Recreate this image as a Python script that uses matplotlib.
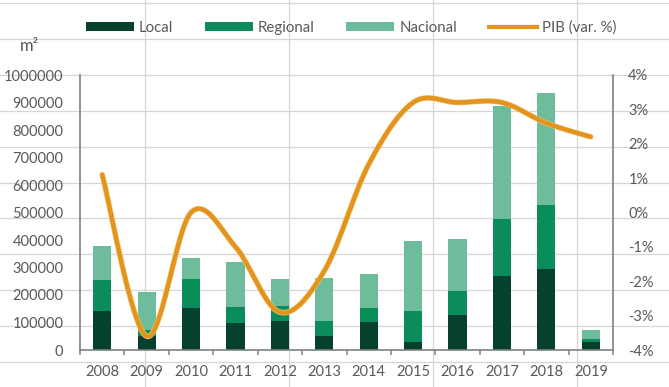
import matplotlib
matplotlib.use('Agg')
import matplotlib.pyplot as plt
import numpy as np
from matplotlib.lines import Line2D
from matplotlib.patches import Patch
import matplotlib.patheffects as pe
from matplotlib.ticker import FixedLocator, FuncFormatter

plt.rcParams['font.family'] = ['Lato', 'DejaVu Sans']

# ---- data ----
years = ['2008', '2009', '2010', '2011', '2012', '2013', '2014', '2015', '2016', '2017', '2018', '2019']
local = [142000, 51000, 153000, 98000, 105500, 51000, 102000, 29000, 127000, 269000, 294500, 29000]
regional = [112500, 22000, 105000, 58000, 54500, 54500, 51000, 113000, 87500, 207000, 232500, 11000]
nacional = [123500, 138000, 76500, 164000, 98000, 156500, 123000, 254000, 189000, 411000, 407500, 33000]
pib = [1.1, -3.6, 0.0, -1.0, -2.9, -1.7, 1.4, 3.2, 3.2, 3.2, 2.6, 2.2]

left_ticks = list(range(0, 1000001, 100000))
right_ticks = [-4, -3, -2, -1, 0, 1, 2, 3, 4]

c_local = '#06402F'
c_regional = '#0B8D5B'
c_nacional = '#6DBD9D'
c_pib = '#E3941F'
c_text = '#595959'
c_axis = '#808080'
c_sheet = '#D6D6D6'

W, H = 669, 387
fig = plt.figure(figsize=(W / 100, H / 100), dpi=100)
fig.patch.set_facecolor('white')

# spreadsheet cell grid behind the chart
for yp in [3, 39, 75, 111, 147, 183, 218, 254, 290, 326, 362]:
    fig.add_artist(Line2D([0, 1], [1 - yp / H, 1 - yp / H], transform=fig.transFigure,
                          color=c_sheet, lw=0.9, zorder=-5))
for xp in [145, 289, 433, 577]:
    fig.add_artist(Line2D([xp / W, xp / W], [0, 1], transform=fig.transFigure,
                          color=c_sheet, lw=0.9, zorder=-5))

ax = fig.add_axes([80 / W, 1 - 350 / H, (613 - 80) / W, (350 - 75) / H])
ax.set_facecolor('none')

x = np.arange(len(years))
bw = 0.41
loc = np.array(local)
reg = np.array(regional)
nac = np.array(nacional)
ax.bar(x, loc, bw, color=c_local, zorder=2, label='Local')
ax.bar(x, reg, bw, bottom=loc, color=c_regional, zorder=2, label='Regional')
ax.bar(x, nac, bw, bottom=loc + reg, color=c_nacional, zorder=2, label='Nacional')

ax.set_xlim(-0.5, len(years) - 0.5)
ax.set_ylim(0, 1000000)
ax.yaxis.set_major_locator(FixedLocator(left_ticks))
ax.yaxis.set_major_formatter(FuncFormatter(lambda v, p: '%d' % v))
ax.set_xticks(x)
ax.set_xticklabels(years)
ax.xaxis.set_minor_locator(FixedLocator(np.arange(-0.5, len(years), 1.0)))
ax.tick_params(axis='x', which='major', length=0, pad=11, labelsize=10.5, colors=c_text)
ax.tick_params(axis='x', which='minor', length=3.5, width=1.1, color=c_axis, direction='out')
ax.tick_params(axis='y', length=0, pad=12, labelsize=10.5, colors=c_text)

for s in ['top', 'right']:
    ax.spines[s].set_visible(False)
for s in ['left', 'bottom']:
    ax.spines[s].set_color(c_axis)
    ax.spines[s].set_linewidth(1.2)

ax2 = ax.twinx()
ax2.set_facecolor('none')
ax2.set_ylim(-4, 4)
ax2.yaxis.set_major_locator(FixedLocator(right_ticks))
ax2.yaxis.set_major_formatter(FuncFormatter(lambda v, p: '%d%%' % v))
ax2.tick_params(axis='y', length=0, pad=11, labelsize=10.5, colors=c_text)
for s in ['top', 'left', 'bottom']:
    ax2.spines[s].set_visible(False)
ax2.spines['right'].set_color(c_axis)
ax2.spines['right'].set_linewidth(1.2)

# smoothed line (Catmull-Rom style Bezier like Excel)
P = np.column_stack([x.astype(float), np.array(pib, dtype=float)])
n = len(P)
xs, ys = [], []
for i in range(n - 1):
    p0 = P[i - 1] if i > 0 else P[i]
    p1 = P[i]
    p2 = P[i + 1]
    p3 = P[i + 2] if i + 2 < n else P[i + 1]
    c1 = p1 + (p2 - p0) / 6.0
    c2 = p2 - (p3 - p1) / 6.0
    t = np.linspace(0, 1, 40)[:, None]
    b = (1 - t) ** 3 * p1 + 3 * (1 - t) ** 2 * t * c1 + 3 * (1 - t) * t ** 2 * c2 + t ** 3 * p2
    xs.extend(b[:, 0])
    ys.extend(b[:, 1])
ax2.plot(xs, ys, color=c_pib, lw=3.1, solid_capstyle='round', zorder=3,
         path_effects=[pe.Stroke(linewidth=4.0, foreground='#F2C46A'), pe.Normal()])

# m2 label
fig.text(20 / W, 1 - 46 / H, 'm²', fontsize=12, color=c_text, ha='left', va='center')

handles = [Patch(facecolor=c_local, edgecolor='none', label='Local'),
           Patch(facecolor=c_regional, edgecolor='none', label='Regional'),
           Patch(facecolor=c_nacional, edgecolor='none', label='Nacional'),
           Line2D([], [], color=c_pib, lw=3.0, label='PIB (var. %)')]
leg = fig.legend(handles=handles, loc='center', bbox_to_anchor=(351 / W, 1 - 28 / H),
                 ncol=4, frameon=False, fontsize=10.8, handlelength=3.2, handleheight=0.55,
                 handletextpad=0.35, columnspacing=2.1, borderpad=0, borderaxespad=0)
for t in leg.get_texts():
    t.set_color(c_text)

fig.savefig('out.png', dpi=100, facecolor='white')
